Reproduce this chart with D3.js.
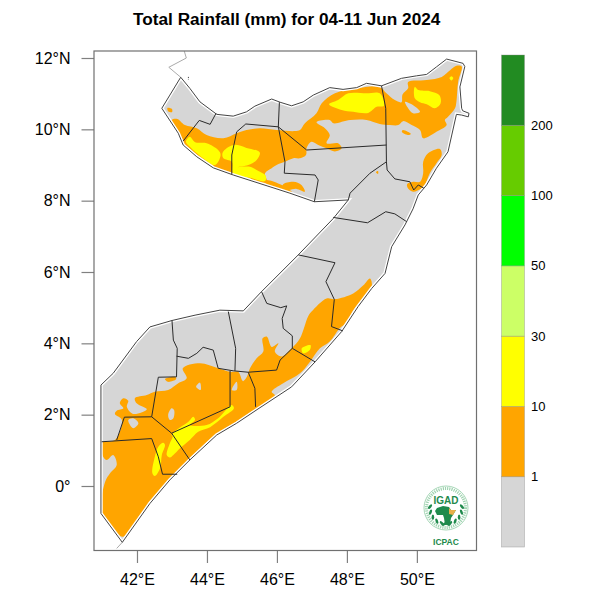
<!DOCTYPE html>
<html><head><meta charset="utf-8">
<script src="https://cdn.jsdelivr.net/npm/d3@7"></script>
<style>html,body{margin:0;padding:0;background:#fff}svg{display:block}text{font-family:"Liberation Sans",Arial,sans-serif}</style>
</head><body><div id="c"></div>
<script>
const titleText = "Total Rainfall (mm) for 04-11 Jun 2024";
const latTicks = [0,2,4,6,8,10,12];
const lonTicks = [42,44,46,48,50];
const classColors = ["#D6D6D6","#FFA500","#FFFF00","#CCFF66","#00FF00","#66CC00","#228B22"];
const classLabels = ["1","10","30","50","100","200"];

const somalia = [[43.25,11.46],[43.51,11.15],[43.80,10.77],[44.28,10.42],[44.75,10.37],[45.13,10.49],[45.37,10.65],[45.85,10.85],[46.09,10.76],[46.42,10.66],[46.75,10.77],[47.04,10.96],[47.51,11.17],[47.89,11.12],[48.28,11.17],[48.56,11.29],[48.99,11.22],[49.56,11.43],[49.99,11.50],[50.28,11.54],[50.56,11.75],[50.85,11.97],[51.32,11.85],[51.37,11.76],[51.23,11.19],[51.28,10.59],[51.31,10.52],[51.49,10.45],[51.47,10.35],[51.28,10.40],[51.13,10.42],[50.89,9.37],[50.56,8.91],[50.28,8.44],[50.04,8.16],[49.89,7.77],[49.66,7.32],[49.28,6.71],[49.09,5.96],[48.71,5.54],[48.32,5.03],[47.85,4.33],[47.09,3.48],[46.42,2.78],[45.46,2.16],[44.85,1.76],[44.28,1.43],[43.51,0.73],[42.94,0.17],[42.37,-0.49],[41.58,-1.58],[40.97,-0.77],[40.97,2.83],[41.32,3.16],[41.99,4.05],[42.37,4.46],[43.0,4.64],[43.66,4.79],[44.37,4.93],[45.04,4.91],[45.56,5.45],[46.61,6.48],[47.61,7.50],[48.04,8.02],[47.07,7.97],[46.37,8.21],[44.75,8.72],[44.18,8.92],[43.71,9.23],[43.32,9.56],[43.18,9.89],[42.71,10.59],[42.94,10.96]];

const orangeAreas = [
 [[42.99,10.26],[43.15,10.29],[43.37,10.12],[43.71,10.03],[43.99,9.84],[44.47,9.75],[44.85,9.89],[45.13,9.98],[45.51,10.03],[45.99,9.98],[46.51,9.95],[46.66,9.98],[46.80,10.17],[47.13,10.45],[47.28,10.73],[47.66,11.01],[48.28,11.15],[48.94,11.19],[49.13,11.01],[49.37,10.82],[49.56,10.76],[49.59,10.98],[49.75,11.15],[49.75,11.33],[50.28,11.38],[50.71,11.47],[50.85,11.57],[51.13,11.78],[51.28,11.76],[51.18,11.33],[51.13,10.77],[51.09,10.59],[50.89,10.35],[50.80,10.26],[50.85,10.12],[50.56,9.93],[50.18,9.75],[50.09,9.98],[49.85,10.12],[49.61,10.23],[49.47,10.12],[49.23,10.12],[48.94,10.15],[48.56,10.26],[48.09,10.26],[47.61,10.17],[47.51,10.26],[47.13,10.20],[47.37,10.03],[47.51,9.84],[47.42,9.61],[47.75,9.61],[47.85,9.47],[47.66,9.38],[47.42,9.47],[47.18,9.56],[46.99,9.65],[46.85,9.48],[46.83,9.28],[46.66,9.19],[46.47,9.19],[46.23,9.09],[45.99,9.00],[45.85,8.91],[45.66,8.77],[45.71,8.53],[45.37,8.53],[45.23,8.63],[44.75,8.77],[44.18,8.95],[43.71,9.28],[43.37,9.56],[43.18,9.89],[42.99,10.12]],
 [[45.69,8.58],[46.14,8.44],[46.43,8.24],[46.09,8.30],[45.63,8.52]],
 [[42.87,10.60],[43.0,10.57],[43.0,10.48],[42.89,10.51]],
 [[49.60,9.98],[49.83,9.87],[49.74,9.84],[49.57,9.93]],
 [[46.18,8.46],[46.47,8.53],[46.70,8.44],[46.80,8.25],[46.56,8.33],[46.32,8.30],[46.16,8.37]],
 [[50.18,9.09],[50.32,9.33],[50.66,9.45],[50.71,9.28],[50.56,9.05],[50.37,8.77],[50.23,8.44],[50.13,8.34],[49.89,8.25],[49.75,8.34],[49.72,8.46],[49.89,8.53],[50.09,8.53],[50.18,8.77]],
 [[48.83,8.80],[48.89,8.83],[48.89,8.75]],
 [[42.80,3.00],[43.09,3.06],[43.12,3.0],[42.89,2.92]],
 [[48.66,5.82],[48.71,5.59],[48.42,5.21],[48.18,4.93],[47.99,4.56],[47.80,4.43],[47.51,4.05],[47.23,3.86],[46.94,3.48],[46.66,3.16],[46.18,2.88],[45.85,2.64],[45.94,2.55],[45.75,2.22],[45.61,2.16],[45.42,2.16],[44.85,1.80],[44.28,1.46],[43.51,0.78],[42.94,0.17],[42.37,-0.49],[41.61,-1.42],[41.47,-1.37],[40.99,-0.81],[41.09,0.12],[41.23,0.36],[41.42,0.59],[41.32,0.87],[41.13,0.73],[40.99,0.92],[41.0,1.21],[41.37,1.29],[41.57,1.85],[41.37,2.02],[41.42,2.11],[41.61,2.18],[41.51,2.32],[41.61,2.46],[41.75,2.39],[41.71,2.22],[41.89,2.02],[42.28,2.15],[41.99,2.32],[41.94,2.46],[42.28,2.55],[42.51,2.64],[42.89,2.69],[43.18,2.88],[43.42,3.02],[43.31,3.30],[43.80,3.44],[44.32,3.30],[44.66,3.20],[44.89,3.20],[45.03,2.94],[45.14,3.06],[45.23,3.30],[45.42,3.58],[45.61,3.77],[45.59,4.14],[45.71,4.19],[45.85,3.90],[46.04,4.00],[45.94,3.77],[46.13,3.63],[46.42,3.86],[46.66,4.14],[46.89,4.75],[46.99,4.89],[47.42,5.26],[47.66,5.24],[48.18,5.40],[48.47,5.63]]
];

const dryHoles = [
 [[49.66,10.77],[49.85,10.70],[50.09,10.49],[49.89,10.45],[49.75,10.59]],
 [[41.75,1.85],[41.89,1.90],[42.04,1.76],[41.89,1.62]],
 [[42.89,1.99],[42.99,2.18],[43.06,2.13],[43.04,1.90],[42.94,1.85]],
 [[43.69,2.78],[43.80,2.90],[43.82,2.69]],
 [[44.71,2.69],[44.85,2.92],[44.85,2.69]]
];

const yellowAreas = [
 [[47.49,10.70],[47.75,10.82],[48.04,11.01],[48.56,11.01],[48.94,11.01],[49.06,10.66],[48.85,10.63],[48.61,10.46],[48.18,10.49],[47.85,10.54]],
 [[49.94,11.19],[50.04,11.10],[50.37,11.07],[50.64,10.96],[50.68,10.73],[50.51,10.59],[50.28,10.70],[50.09,10.76],[49.94,10.87]],
 [[50.93,11.44],[50.99,11.49],[51.04,11.44],[50.99,11.37]],
 [[43.51,9.79],[43.66,9.64],[43.99,9.61],[44.32,9.42],[44.39,9.28],[44.23,9.0],[43.89,9.19],[43.51,9.51],[43.40,9.65]],
 [[44.45,9.35],[44.75,9.56],[45.13,9.48],[45.51,9.35],[45.42,9.14],[45.18,9.0],[44.89,8.94],[45.23,8.95],[45.47,8.83],[45.68,8.70],[45.66,8.55],[45.23,8.64],[44.75,8.77],[44.71,9.09],[44.47,9.19]],
 [[42.99,1.43],[43.13,1.57],[43.47,1.80],[43.61,1.94],[43.66,1.85],[43.51,1.71],[43.99,1.71],[44.32,1.90],[44.71,2.27],[44.77,2.18],[44.47,1.94],[44.09,1.65],[43.75,1.52],[43.51,1.29],[43.23,1.06],[43.04,0.87],[42.94,0.80],[42.85,0.87],[42.94,1.20],[43.02,1.38]],
 [[42.61,1.10],[42.75,1.21],[42.80,1.15],[42.71,0.87],[42.66,0.50],[42.51,0.28],[42.44,0.36],[42.51,0.82]],
 [[46.71,3.86],[46.96,3.95],[46.94,3.81],[46.75,3.72]]
];

const adminBorders = [
 [[44.26,10.45],[44.09,10.14],[43.78,10.25],[43.32,9.67]],
 [[44.71,8.74],[44.71,9.28],[44.85,9.93],[45.11,10.15],[46.04,10.07],[46.07,10.76]],
 [[46.04,10.07],[46.23,9.09],[46.21,8.77],[47.09,8.72],[47.18,8.58],[47.07,7.97]],
 [[46.04,10.07],[46.85,9.42],[49.13,9.56]],
 [[48.99,11.22],[49.11,10.59],[49.13,9.09],[49.15,8.86],[49.37,8.61],[49.80,8.53],[49.91,8.30],[50.04,8.44],[50.20,8.35]],
 [[49.13,9.09],[48.66,8.77],[48.09,8.21],[48.04,8.02]],
 [[46.61,6.48],[47.66,6.26],[47.40,5.73],[47.64,5.23],[47.56,4.47],[47.88,4.35]],
 [[47.61,7.53],[48.59,7.38],[49.11,7.69],[49.37,7.63],[49.71,7.41]],
 [[45.56,5.45],[45.71,5.12],[46.11,5.0],[46.28,5.05],[46.15,4.70],[46.18,4.42],[46.44,4.21],[46.44,3.86],[47.09,3.48]],
 [[46.44,3.86],[46.09,3.53],[45.99,3.25],[45.18,3.19],[45.37,2.74],[45.39,2.22]],
 [[44.61,4.89],[44.82,3.86],[44.80,3.23]],
 [[43.0,4.64],[43.04,4.09],[43.15,3.86],[43.13,3.06],[42.61,3.05],[42.42,1.94],[41.64,1.93],[41.42,1.29]],
 [[43.13,3.64],[43.47,3.58],[43.71,3.72],[43.89,3.89],[44.18,3.81],[44.32,3.30],[44.75,3.23],[45.18,3.19]],
 [[44.66,3.23],[44.66,2.22],[42.99,1.48]],
 [[42.42,1.94],[42.99,1.48],[43.51,0.73]],
 [[40.99,1.24],[42.42,1.33],[42.61,0.82],[42.73,0.33],[43.15,0.33]]
];

const neighbourLines = [
 [[43.35,12.2],[43.41,12.0],[42.91,11.74],[43.25,11.46]],
 [[41.58,-1.58],[41.42,-1.75]]
];
const islets = [[[43.47,11.47],[43.47,11.40]]];

const W = 600, H = 600;
const x = d3.scaleLinear().domain([40.8,51.69]).range([95,476]);
const y = d3.scaleLinear().domain([0,12]).range([486,58]);
const svg = d3.select("#c").append("svg").attr("width",W).attr("height",H);
const line = d3.line().x(d=>x(d[0])).y(d=>y(d[1]));
const closed = d => line(d)+"Z";
const smooth = d3.line().x(d=>x(d[0])).y(d=>y(d[1])).curve(d3.curveCatmullRomClosed.alpha(0.5));

const defs = svg.append("defs");
defs.append("clipPath").attr("id","land").append("path").attr("d",closed(somalia));
defs.append("clipPath").attr("id","frame").append("rect").attr("x",94).attr("y",51).attr("width",382.5).attr("height",499.5);

svg.append("text").attr("x",286.7).attr("y",25).attr("text-anchor","middle")
  .attr("font-size",17.2).attr("font-weight","bold").text(titleText);

const map = svg.append("g").attr("clip-path","url(#frame)");
const rain = map.append("g").attr("clip-path","url(#land)");
rain.append("path").attr("d",closed(somalia)).attr("fill",classColors[0]);
rain.selectAll(".o").data(orangeAreas).join("path").attr("d",smooth).attr("fill",classColors[1]);
rain.selectAll(".g").data(dryHoles).join("path").attr("d",smooth).attr("fill",classColors[0]);
rain.selectAll(".y").data(yellowAreas).join("path").attr("d",smooth).attr("fill",classColors[2]);
map.append("path").attr("d",closed(somalia)).attr("fill","none").attr("stroke","#fff").attr("stroke-width",3.6);
map.selectAll(".n").data(neighbourLines).join("path").attr("d",line).attr("fill","none").attr("stroke","#aaa").attr("stroke-width",1);
map.append("path").attr("d",closed(somalia)).attr("fill","none").attr("stroke","#444").attr("stroke-width",1);
map.selectAll(".a").data(adminBorders).join("path").attr("d",line).attr("fill","none").attr("stroke","#2a2a2a").attr("stroke-width",1);
map.selectAll(".i").data(islets).join("path").attr("d",line).attr("fill","none").attr("stroke","#333").attr("stroke-width",1).attr("stroke-dasharray","1 1");

const yAxis = svg.append("g").attr("transform","translate(94,0)")
  .call(d3.axisLeft(y).tickValues(latTicks).tickSize(12.5).tickPadding(11).tickFormat(d=>d===0?"0°":d+"°N"));
const xAxis = svg.append("g").attr("transform","translate(0,550.5)")
  .call(d3.axisBottom(x).tickValues(lonTicks).tickSize(12.5).tickPadding(11).tickFormat(d=>d+"°E"));
[yAxis,xAxis].forEach(a=>{
  a.selectAll("text").attr("font-size",16).attr("fill","#000").style("font-family",'"Liberation Sans",Arial,sans-serif');
  a.selectAll("line").attr("stroke","#808080").attr("stroke-width",1.2);
  a.select(".domain").remove();
});
svg.append("rect").attr("x",94).attr("y",51).attr("width",382.5).attr("height",499.5)
  .attr("fill","none").attr("stroke","#707070").attr("stroke-width",1.2);

const cb = d3.scaleLinear().domain([0,classColors.length]).range([547,55]);
svg.selectAll(".cb").data(classColors).join("rect")
  .attr("x",501.5).attr("width",23)
  .attr("y",(d,i)=>cb(i+1)).attr("height",(d,i)=>cb(i)-cb(i+1)).attr("fill",d=>d)
  .attr("stroke","#8a8a8a").attr("stroke-opacity",0.55).attr("stroke-width",0.7);
svg.selectAll(".cbl").data(classLabels).join("text")
  .attr("x",531).attr("y",(d,i)=>cb(i+1)+4.5).attr("font-size",13).text(d=>d);

// ICPAC logo
const logo = svg.append("g").attr("transform","translate(446,508)");
logo.append("circle").attr("r",22).attr("fill","#fff").attr("stroke","#8fcba3").attr("stroke-width",0.8);
logo.append("circle").attr("r",19.5).attr("fill","none").attr("stroke","#9fd3b0").attr("stroke-width",3).attr("stroke-dasharray","1.2 1");
logo.append("text").attr("y",-4.5).attr("text-anchor","middle").attr("font-size",10).attr("font-weight","bold").attr("fill","#1f8a4c").text("IGAD");
const africa = [[-9,-2],[-3,-4],[3,-3],[5,0],[10,0],[7,5],[5,8],[4,14],[-1,15],[-2,8],[-3,5],[-9,5],[-11,1]];
logo.append("path").attr("d",d3.line()(africa)+"Z").attr("transform","translate(0,2)").attr("fill","#1f8a4c");
logo.append("path").attr("d",d3.line()([[3,-2],[5,0],[10,0],[7,5],[3,4]])+"Z").attr("transform","translate(0,2)").attr("fill","#e8b04a");
[-1,1].forEach(s=>{
  d3.range(6).forEach(i=>{
    const a=(i*20-5)*Math.PI/180, r=16, cx=s*r*Math.cos(a), cy=r*Math.sin(a);
    logo.append("ellipse").attr("cx",cx).attr("cy",cy).attr("rx",2.8).attr("ry",1.3)
      .attr("fill","#1f8a4c").attr("transform",`rotate(${s*(i*20+50)},${cx},${cy})`);
  });
});
svg.append("text").attr("x",446).attr("y",545).attr("text-anchor","middle").attr("font-size",8.5).attr("font-weight","bold").attr("fill","#1f8a4c").text("ICPAC");
</script></body></html>
